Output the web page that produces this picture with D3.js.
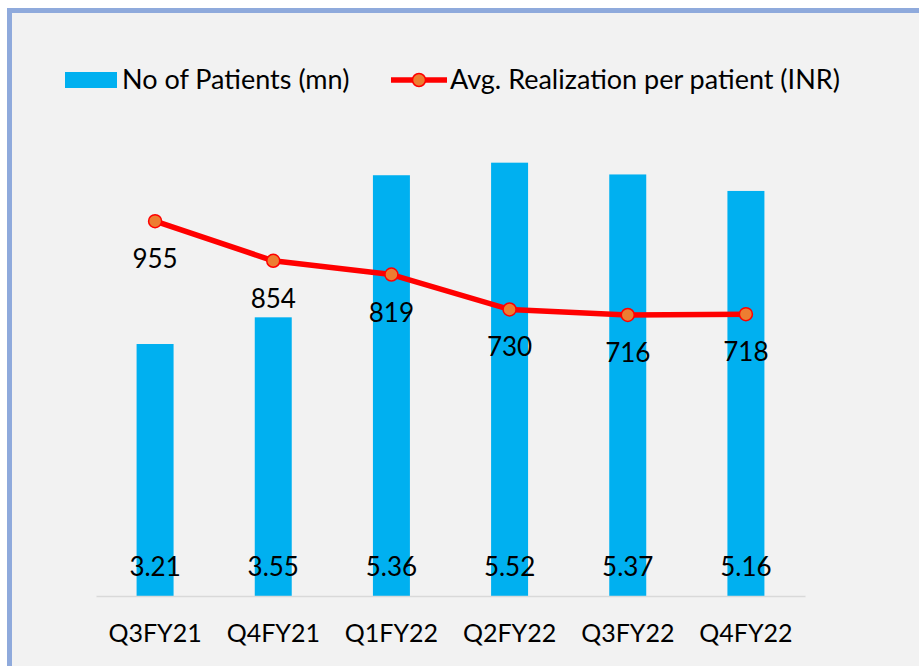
<!DOCTYPE html>
<html>
<head>
<meta charset="utf-8">
<script src="https://cdn.jsdelivr.net/npm/d3@7/dist/d3.min.js"></script>
<style>
  html, body { margin: 0; padding: 0; background: #ffffff; }
  svg { display: block; }
  text { font-family: Lato, "Open Sans", sans-serif; fill: #000; }
</style>
</head>
<body>
<svg id="chart" width="919" height="666"></svg>
<script>
// Quarterly data
const quarters = ["Q3FY21", "Q4FY21", "Q1FY22", "Q2FY22", "Q3FY22", "Q4FY22"];
const patients = [3.21, 3.55, 5.36, 5.52, 5.37, 5.16];      // No of Patients (mn)
const realization = [955, 854, 819, 730, 716, 718];        // Avg. Realization per patient (INR)
const seriesNames = ["No of Patients (mn)", "Avg. Realization per patient (INR)"];

const barColor = "#00b0f0";
const lineColor = "#ff0000";
const markerFill = "#ed7d31";

const svg = d3.select("#chart");

// Frame: light-blue border with grey panel
svg.append("rect").attr("x", 0).attr("y", 0).attr("width", 919).attr("height", 666).attr("fill", "#ffffff");
svg.append("rect").attr("x", 7).attr("y", 8).attr("width", 930).attr("height", 680).attr("fill", "#8faadc");
svg.append("rect").attr("x", 12).attr("y", 13).attr("width", 930).attr("height", 680).attr("fill", "#f2f2f2");

const plot = { left: 96, right: 805, top: 125, bottom: 596 };

const x = d3.scaleBand()
  .domain(quarters)
  .range([plot.left, plot.right])
  .paddingInner(0.687)
  .paddingOuter(0.3435);

const yBar = d3.scaleLinear().domain([0, 6]).range([plot.bottom, plot.top]);
const yLine = d3.scaleLinear().domain([0, 1200]).range([plot.bottom, plot.top]);

// Bars
svg.append("g").selectAll("rect")
  .data(quarters)
  .join("rect")
  .attr("x", d => x(d))
  .attr("width", x.bandwidth())
  .attr("y", (d, i) => yBar(patients[i]))
  .attr("height", (d, i) => yBar(0) - yBar(patients[i]))
  .attr("fill", barColor);

// Category axis
const xAxis = svg.append("g")
  .attr("transform", `translate(0,${plot.bottom})`)
  .call(d3.axisBottom(x).tickSize(0).tickPadding(0));
xAxis.select(".domain").attr("stroke", "#d9d9d9").attr("stroke-width", 1.5);
xAxis.selectAll(".tick text")
  .attr("y", 46)
  .attr("dy", 0)
  .style("font-size", "25px")
  .style("font-family", "Lato, sans-serif")
  .attr("fill", "#000");

// Bar value labels near the base
svg.append("g").selectAll("text")
  .data(quarters)
  .join("text")
  .attr("x", d => x(d) + x.bandwidth() / 2)
  .attr("y", plot.bottom - 20)
  .attr("text-anchor", "middle")
  .style("font-size", "26px")
  .text((d, i) => patients[i].toFixed(2));

// Line series
const cx = d => x(d) + x.bandwidth() / 2;
const line = d3.line()
  .x(d => cx(d))
  .y((d, i) => yLine(realization[i]));

svg.append("path")
  .datum(quarters)
  .attr("d", line)
  .attr("fill", "none")
  .attr("stroke", lineColor)
  .attr("stroke-width", 5.5)
  .attr("stroke-linejoin", "round");

svg.append("g").selectAll("circle")
  .data(quarters)
  .join("circle")
  .attr("cx", d => cx(d))
  .attr("cy", (d, i) => yLine(realization[i]))
  .attr("r", 6.5)
  .attr("fill", markerFill)
  .attr("stroke", lineColor)
  .attr("stroke-width", 1.5);

// Line value labels below points
svg.append("g").selectAll("text")
  .data(quarters)
  .join("text")
  .attr("x", d => cx(d))
  .attr("y", (d, i) => yLine(realization[i]) + 47)
  .attr("text-anchor", "middle")
  .style("font-size", "26px")
  .text((d, i) => realization[i]);

// Legend
const legend = svg.append("g");
legend.append("rect")
  .attr("x", 65).attr("y", 72).attr("width", 52).attr("height", 16)
  .attr("fill", barColor);
legend.append("text")
  .attr("x", 122).attr("y", 89)
  .style("font-size", "27px")
  .text(seriesNames[0]);
legend.append("line")
  .attr("x1", 391).attr("x2", 447).attr("y1", 80).attr("y2", 80)
  .attr("stroke", lineColor).attr("stroke-width", 5.5);
legend.append("circle")
  .attr("cx", 419).attr("cy", 80).attr("r", 6.5)
  .attr("fill", markerFill).attr("stroke", lineColor).attr("stroke-width", 1.5);
legend.append("text")
  .attr("x", 450).attr("y", 89)
  .style("font-size", "27px")
  .text(seriesNames[1]);
</script>
</body>
</html>
